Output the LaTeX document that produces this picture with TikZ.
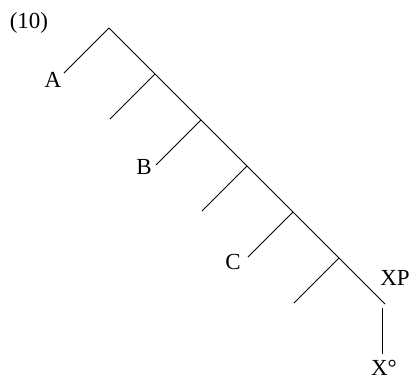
\documentclass[tikz,border=0pt]{standalone}
\usepackage{fontspec}
\setmainfont{Liberation Serif}
\begin{document}
\begin{tikzpicture}[x=1pt,y=-1pt,
  edge/.style={line width=0.9pt,black},
  lab/.style={inner sep=0pt,font=\fontsize{23}{27}\selectfont}]
\useasboundingbox (0,0) rectangle (412,381);
% spine
\coordinate (r) at (109,28);
\coordinate (j1) at (155,74);
\coordinate (j2) at (201,120);
\coordinate (j3) at (247,166);
\coordinate (j4) at (293,212);
\coordinate (j5) at (339,258);
\coordinate (e) at (385,304);
% leaf ends
\coordinate (la) at (64,73);
\coordinate (l1) at (110,119);
\coordinate (lb) at (156,165);
\coordinate (l3) at (202,211);
\coordinate (lc) at (248,257);
\coordinate (l5) at (294,303);
\coordinate (vt) at (382,308);
\coordinate (vb) at (382,354);
% labels
\node[lab] (num) at (29,23) {(10)};
\node[lab] (A) at (53,80) {A};
\node[lab] (B) at (144,167) {B};
\node[lab] (C) at (233,262) {C};
\node[lab] (XP) at (395,278) {XP};
\node[lab] (X) at (384,368) {X°};
% edges
\draw[edge] (r) -- (j1) -- (j2) -- (j3) -- (j4) -- (j5) -- (e);
\draw[edge] (r) -- (la);
\draw[edge] (j1) -- (l1);
\draw[edge] (j2) -- (lb);
\draw[edge] (j3) -- (l3);
\draw[edge] (j4) -- (lc);
\draw[edge] (j5) -- (l5);
\draw[edge] (vt) -- (vb);
\end{tikzpicture}
\end{document}
